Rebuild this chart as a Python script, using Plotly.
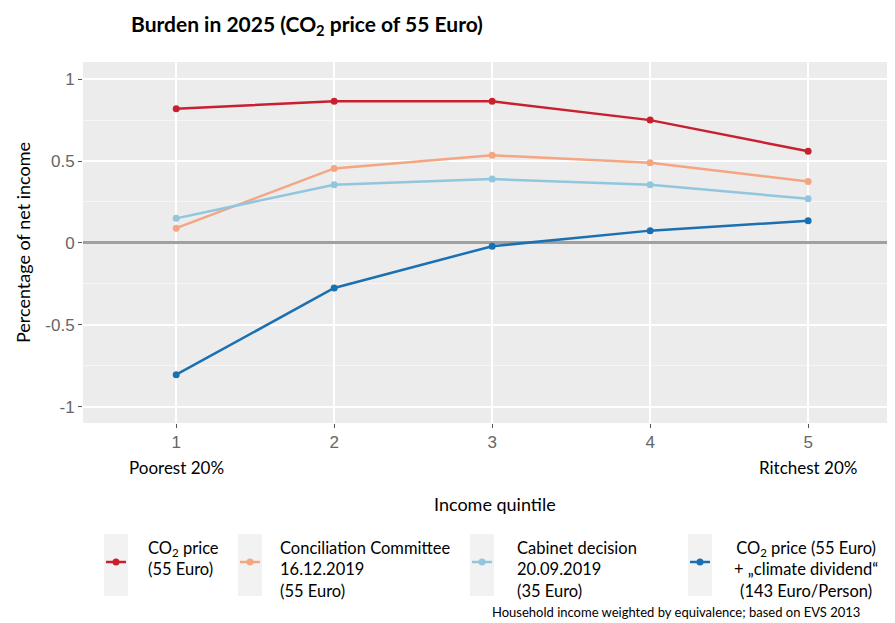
import plotly.graph_objects as go

# income quintiles
quintile = [1, 2, 3, 4, 5]

# burden as percentage of net income
co2_price = [0.82, 0.865, 0.865, 0.75, 0.56]
conciliation = [0.09, 0.455, 0.535, 0.49, 0.375]
cabinet = [0.15, 0.355, 0.39, 0.355, 0.27]
dividend = [-0.805, -0.275, -0.02, 0.075, 0.135]

series = [
    ("CO2 price (55 Euro)", co2_price, "#c8202f"),
    ("Conciliation Committee", conciliation, "#f4a582"),
    ("Cabinet decision", cabinet, "#92c5de"),
    ("CO2 price + climate dividend", dividend, "#1a70b0"),
]

FONT = "Lato"
OFF = 8  # page body margin

fig = go.Figure()
for name, vals, col in series:
    fig.add_trace(go.Scatter(x=quintile, y=vals, name=name, mode="lines+markers",
                             line=dict(color=col, width=2.5),
                             marker=dict(color=col, size=7),
                             showlegend=False))

fig.update_layout(
    width=895 - OFF, height=623 - OFF,
    margin=dict(l=83 - OFF, r=0, t=62 - OFF, b=200),
    paper_bgcolor="white",
    plot_bgcolor="#ececec",
    font=dict(family=FONT, color="black"),
    xaxis=dict(range=[0.41, 5.55], tickvals=quintile, showgrid=True, automargin=False,
               gridcolor="white", gridwidth=1.5, zeroline=False,
               ticks="outside", ticklen=4, tickcolor="#555",
               tickfont=dict(family="Liberation Sans", size=17, color="#666")),
    yaxis=dict(range=[-1.1, 1.105], tickvals=[-1, -0.5, 0, 0.5, 1],
               ticktext=["-1", "-0.5", "0", "0.5", "1"], automargin=False,
               showgrid=True, gridcolor="white", gridwidth=1.5,
               minor=dict(dtick=0.25, showgrid=True, gridcolor="#f6f6f6", gridwidth=1),
               zeroline=True, zerolinecolor="#a0a0a0", zerolinewidth=2.5,
               ticks="outside", ticklen=4, tickcolor="#555",
               tickfont=dict(family="Liberation Sans", size=17, color="#666"),
               title=dict(text="Percentage of net income", standoff=10,
                          font=dict(family=FONT, size=18))),
)

def px(xp):
    return (xp - 83) / 812

def py(yp):
    return (423 - yp) / 361

# title
fig.add_annotation(text="<b>Burden in 2025 (CO<sub>2</sub> price of 55 Euro)</b>",
                   xref="paper", yref="paper", x=px(129), y=py(25),
                   xanchor="left", yanchor="middle", showarrow=False,
                   font=dict(family=FONT, size=21))

fig.add_annotation(text="Poorest 20%", xref="paper", yref="paper", x=px(127), y=py(468),
                   xanchor="left", yanchor="middle", showarrow=False, font=dict(size=17))
fig.add_annotation(text="Ritchest 20%", xref="paper", yref="paper", x=px(859), y=py(468),
                   xanchor="right", yanchor="middle", showarrow=False, font=dict(size=17))
fig.add_annotation(text="Income quintile", xref="paper", yref="paper", x=px(495), y=py(504),
                   xanchor="center", yanchor="middle", showarrow=False, font=dict(size=18))

# legend drawn by hand
legend = [
    (116, 146, "left", "CO<sub>2</sub> price<br>(55 Euro)", series[0][2]),
    (250, 278, "left", "Conciliation Committee<br>16.12.2019<br>(55 Euro)", series[1][2]),
    (482, 515, "left", "Cabinet decision<br>20.09.2019<br>(35 Euro)", series[2][2]),
    (700, 806, "center", "CO<sub>2</sub> price (55 Euro)<br>+ \u201eclimate dividend\u201c<br>(143 Euro/Person)", series[3][2]),
]
for kx, tx, al, txt, col in legend:
    fig.add_shape(type="rect", xref="paper", yref="paper",
                  x0=px(kx - 12), x1=px(kx + 12), y0=py(596), y1=py(534),
                  fillcolor="#f2f2f2", line=dict(width=0))
    fig.add_shape(type="line", xref="paper", yref="paper",
                  x0=px(kx - 10), x1=px(kx + 10), y0=py(562), y1=py(562),
                  line=dict(color=col, width=2.5))
    fig.add_shape(type="circle", xref="paper", yref="paper",
                  x0=px(kx - 3.5), x1=px(kx + 3.5), y0=py(565.5), y1=py(558.5),
                  fillcolor=col, line=dict(width=0))
    fig.add_annotation(text=txt, xref="paper", yref="paper",
                       x=px(tx), y=py(536), xanchor=al,
                       yanchor="top", align=al, showarrow=False,
                       font=dict(size=16.5))

fig.add_annotation(text="Household income weighted by equivalence; based on EVS 2013",
                   xref="paper", yref="paper", x=px(862), y=py(612),
                   xanchor="right", yanchor="middle", showarrow=False,
                   font=dict(size=13))

fig.write_html("out.html")
